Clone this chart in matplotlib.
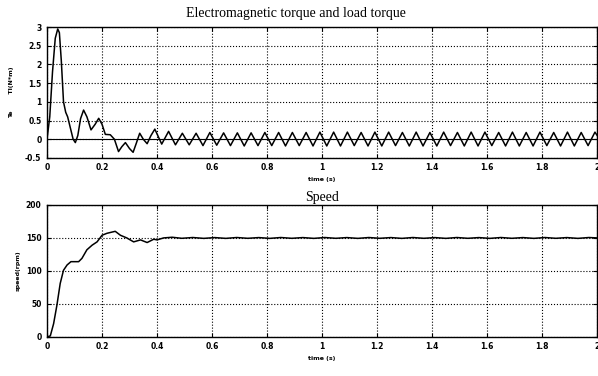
import matplotlib
matplotlib.use("Agg")
import matplotlib.pyplot as plt

# electromagnetic torque Te (N*m)
te_time = [0, 0.01, 0.02, 0.03, 0.039, 0.045, 0.052, 0.06, 0.068, 0.075, 0.085, 0.095,
           0.103, 0.112, 0.122, 0.133, 0.145, 0.16, 0.175, 0.188, 0.2, 0.212, 0.23, 0.245,
           0.26, 0.272, 0.285, 0.3, 0.313, 0.325, 0.337, 0.35, 0.364, 0.378, 0.392,
           0.417, 0.442, 0.467, 0.492, 0.517, 0.542, 0.567, 0.592, 0.617, 0.642, 0.667,
           0.692, 0.717, 0.742, 0.767, 0.792, 0.817, 0.842, 0.867, 0.892, 0.917, 0.942,
           0.967, 0.992, 1.017, 1.042, 1.067, 1.092, 1.117, 1.142, 1.167, 1.192, 1.217,
           1.242, 1.267, 1.292, 1.317, 1.342, 1.367, 1.392, 1.417, 1.442, 1.467, 1.492,
           1.517, 1.542, 1.567, 1.592, 1.617, 1.642, 1.667, 1.692, 1.717, 1.742, 1.767,
           1.792, 1.817, 1.842, 1.867, 1.892, 1.917, 1.942, 1.967, 1.992, 2.0]
te_value = [0, 0.6, 1.8, 2.7, 2.95, 2.85, 2.1, 1.0, 0.72, 0.6, 0.3, 0.0,
            -0.09, 0.1, 0.55, 0.78, 0.6, 0.25, 0.4, 0.56, 0.4, 0.13, 0.12, 0.0,
            -0.33, -0.2, -0.09, -0.25, -0.35, -0.1, 0.16, 0.0, -0.12, 0.1, 0.27,
            -0.13, 0.21, -0.15, 0.16, -0.15, 0.16, -0.17, 0.18, -0.16, 0.17, -0.17,
            0.17, -0.18, 0.17, -0.17, 0.18, -0.17, 0.18, -0.18, 0.18, -0.17, 0.18,
            -0.18, 0.19, -0.18, 0.19, -0.18, 0.19, -0.17, 0.18, -0.18, 0.19, -0.18,
            0.19, -0.17, 0.18, -0.18, 0.19, -0.18, 0.18, -0.18, 0.19, -0.17, 0.18,
            -0.18, 0.19, -0.18, 0.19, -0.17, 0.18, -0.18, 0.19, -0.18, 0.18, -0.18,
            0.19, -0.17, 0.18, -0.18, 0.19, -0.18, 0.18, -0.17, 0.19, 0.1]

# load torque Tl (N*m)
tl_time = [0, 2.0]
tl_value = [0, 0]

# rotor speed (rpm)
sp_time = [0, 0.012, 0.024, 0.036, 0.048, 0.06, 0.073, 0.087, 0.1, 0.115, 0.127, 0.145,
           0.164, 0.182, 0.2, 0.218, 0.248, 0.267, 0.29, 0.315, 0.34, 0.364, 0.388, 0.4,
           0.424, 0.455, 0.49, 0.53, 0.57, 0.61, 0.65, 0.69, 0.73, 0.77, 0.81, 0.85,
           0.89, 0.93, 0.97, 1.01, 1.05, 1.09, 1.13, 1.17, 1.21, 1.25, 1.29, 1.33, 1.37,
           1.41, 1.45, 1.49, 1.53, 1.57, 1.61, 1.65, 1.69, 1.73, 1.77, 1.81, 1.85, 1.89,
           1.93, 1.97, 2.0]
sp_value = [0, 1.5, 20, 48, 81, 101, 109, 114, 114, 114, 119, 132,
            139, 144, 154, 157, 160, 154, 150, 144, 147, 143, 148, 147,
            150, 151, 149.4, 150.6, 149.3, 150.5, 149.3, 150.6, 149.4, 150.5, 149.3, 150.6,
            149.4, 150.5, 149.3, 150.6, 149.4, 150.5, 149.3, 150.6, 149.4, 150.5, 149.3,
            150.6, 149.4, 150.5, 149.3, 150.6, 149.4, 150.5, 149.3, 150.6, 149.4, 150.5,
            149.3, 150.6, 149.4, 150.5, 149.3, 150.6, 150.0]

x_ticks = [0, 0.2, 0.4, 0.6, 0.8, 1, 1.2, 1.4, 1.6, 1.8, 2]
x_labels = ["0", "0.2", "0.4", "0.6", "0.8", "1", "1.2", "1.4", "1.6", "1.8", "2"]
te_ticks = [-0.5, 0, 0.5, 1, 1.5, 2, 2.5, 3]
te_labels = ["-0.5", "0", "0.5", "1", "1.5", "2", "2.5", "3"]
sp_ticks = [0, 50, 100, 150, 200]

tick_font = dict(family="DejaVu Sans", size=5.5, weight="bold")
small_font = dict(family="DejaVu Sans", size=4.5, weight="bold")
title_font = dict(family="Liberation Serif", size=10)


def style(ax):
    ax.set_xlim(0, 2)
    ax.set_xticks(x_ticks)
    ax.set_xticklabels(x_labels, fontdict=tick_font)
    ax.grid(True, color="black", linestyle=":", linewidth=0.8)
    ax.tick_params(direction="in", length=3, width=0.8, top=True, right=True, pad=4)
    for s in ax.spines.values():
        s.set_linewidth(1.0)
    ax.set_xlabel("time (s)", fontdict=small_font, labelpad=3)


fig = plt.figure(figsize=(5.98, 3.76), dpi=100)
ax1 = fig.add_axes([0.0786, 0.580, 0.920, 0.348])
ax2 = fig.add_axes([0.0786, 0.104, 0.920, 0.351])

ax1.plot(te_time, te_value, color="black", linewidth=1.1)
ax1.plot(tl_time, tl_value, color="black", linewidth=0.8)
ax1.set_ylim(-0.5, 3)
ax1.set_yticks(te_ticks)
ax1.set_yticklabels(te_labels, fontdict=tick_font)
style(ax1)
ax1.set_ylabel("Te        Tl(N*m)", fontdict=small_font, labelpad=8)
ax1.set_title("Electromagnetic torque and load torque", fontdict=title_font,
              x=0.453, pad=7)

ax2.plot(sp_time, sp_value, color="black", linewidth=1.1)
ax2.set_ylim(0, 200)
ax2.set_yticks(sp_ticks)
ax2.set_yticklabels([str(v) for v in sp_ticks], fontdict=tick_font)
style(ax2)
ax2.set_ylabel("speed(rpm)", fontdict=small_font, labelpad=4)
ax2.set_title("Speed", fontdict=title_font, pad=3)

fig.savefig("out.png", dpi=100)
